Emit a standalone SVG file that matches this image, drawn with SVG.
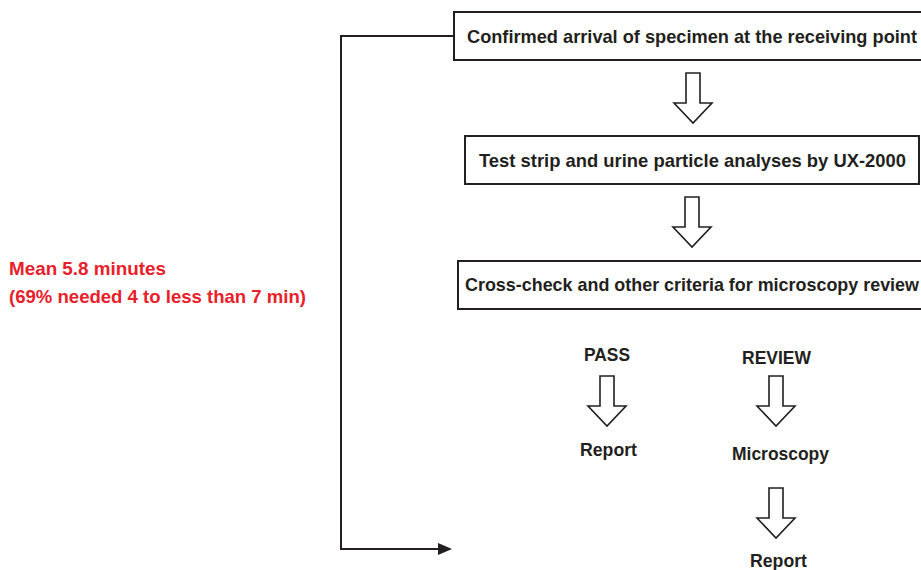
<svg xmlns="http://www.w3.org/2000/svg" width="921" height="570" viewBox="0 0 921 570">
<defs>
<style>
.t{font-family:"Liberation Sans",Arial,sans-serif;font-weight:bold;font-size:19px;fill:#231f20;text-anchor:middle}
.r{font-family:"Liberation Sans",Arial,sans-serif;font-weight:bold;font-size:19px;fill:#e8202a}
.box{fill:#fff;stroke:#231f20;stroke-width:2}
.ba{fill:#fff;stroke:#231f20;stroke-width:1.6;stroke-linejoin:miter}
.ln{fill:none;stroke:#231f20;stroke-width:2}
</style>
<path id="blk" d="M-7,0 H7 V30 H19 L0,50 L-19,30 H-7 Z"/>
<marker id="ah" markerWidth="14" markerHeight="12" refX="12" refY="6" orient="auto" markerUnits="userSpaceOnUse">
<path d="M0,0 L14,6 L0,12 Z" fill="#231f20"/>
</marker>
</defs>
<g id="connectors">
<path class="ln" d="M453,36 H341 V549 H450" marker-end="url(#ah)"/>
<use href="#blk" class="ba" x="693" y="73"/>
<use href="#blk" class="ba" x="692" y="197"/>
<use href="#blk" class="ba" x="607" y="376"/>
<use href="#blk" class="ba" x="776" y="376"/>
<use href="#blk" class="ba" x="776" y="488"/>
</g>
<g id="n1">
<rect class="box" x="454" y="12" width="480" height="48"/>
<text class="t" x="692" y="43" textLength="450" lengthAdjust="spacingAndGlyphs">Confirmed arrival of specimen at the receiving point</text>
</g>
<g id="n2">
<rect class="box" x="465" y="136" width="454" height="48"/>
<text class="t" x="692.5" y="167" textLength="427" lengthAdjust="spacingAndGlyphs">Test strip and urine particle analyses by UX-2000</text>
</g>
<g id="n3">
<rect class="box" x="458" y="261" width="480" height="48"/>
<text class="t" x="692" y="291" textLength="454" lengthAdjust="spacingAndGlyphs">Cross-check and other criteria for microscopy review</text>
</g>
<g id="pass"><text class="t" x="607" y="361" textLength="46" lengthAdjust="spacingAndGlyphs">PASS</text></g>
<g id="report1"><text class="t" x="608.5" y="456" textLength="57" lengthAdjust="spacingAndGlyphs">Report</text></g>
<g id="review"><text class="t" x="776.5" y="364" textLength="69" lengthAdjust="spacingAndGlyphs">REVIEW</text></g>
<g id="microscopy"><text class="t" x="780.5" y="460" textLength="97" lengthAdjust="spacingAndGlyphs">Microscopy</text></g>
<g id="report2"><text class="t" x="778.5" y="567" textLength="57" lengthAdjust="spacingAndGlyphs">Report</text></g>
<g id="note">
<text class="r" x="9" y="275" textLength="157" lengthAdjust="spacingAndGlyphs">Mean 5.8 minutes</text>
<text class="r" x="9" y="303" textLength="297" lengthAdjust="spacingAndGlyphs">(69% needed 4 to less than 7 min)</text>
</g>
</svg>
